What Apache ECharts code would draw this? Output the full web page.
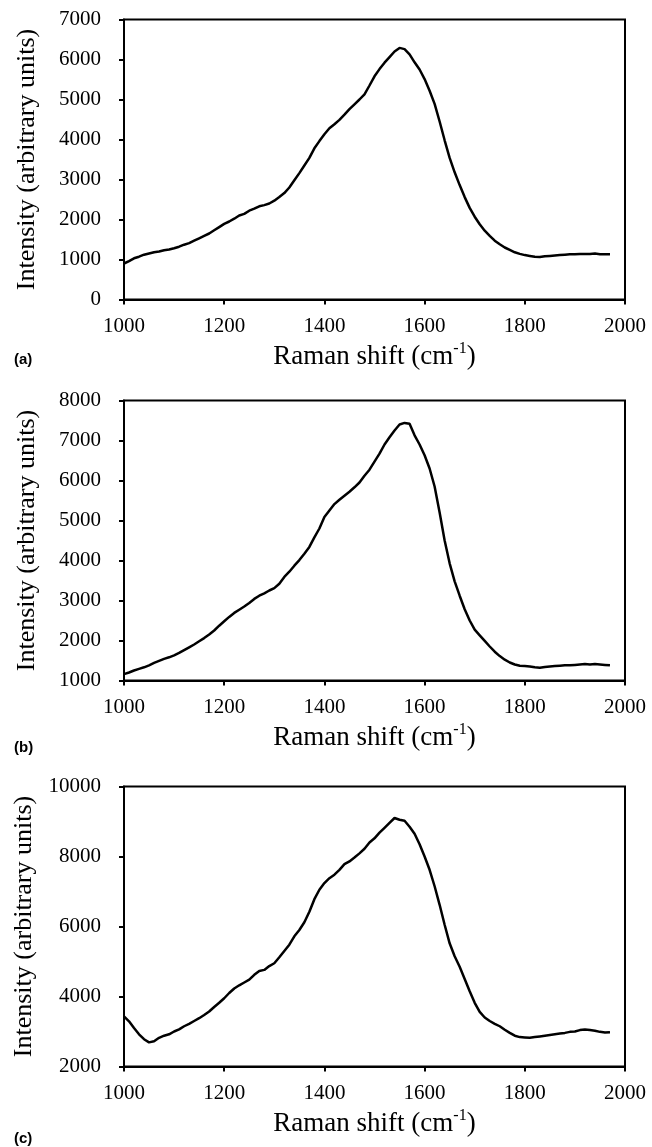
<!DOCTYPE html>
<html>
<head>
<meta charset="utf-8">
<script src="https://cdn.jsdelivr.net/npm/echarts@6/dist/echarts.min.js"></script>
<style>
html,body{margin:0;padding:0;background:#fff;}
#chart{width:652px;height:1147px;}
</style>
</head>
<body>
<div id="chart"></div>
<script>
// Raman shift sample positions (cm-1)
const ramanShift = [1000,1010,1020,1030,1040,1050,1060,1070,1080,1090,
1100,1110,1120,1130,1140,1150,1160,1170,1180,1190,
1200,1210,1220,1230,1240,1250,1260,1270,1280,1290,
1300,1310,1320,1330,1340,1350,1360,1370,1380,1390,
1400,1410,1420,1430,1440,1450,1460,1470,1480,1490,
1500,1510,1520,1530,1540,1550,1560,1570,1580,1590,
1600,1610,1620,1630,1640,1650,1660,1670,1680,1690,
1700,1710,1720,1730,1740,1750,1760,1770,1780,1790,
1800,1810,1820,1830,1840,1850,1860,1870,1880,1890,
1900,1910,1920,1930,1940,1950,1960,1970];

// Panel (a) intensity
const intensityA = [900,960,1030,1070,1120,1150,1180,1200,1230,1250,
1280,1320,1370,1410,1470,1530,1590,1650,1730,1810,
1890,1950,2020,2100,2140,2220,2270,2330,2360,2400,
2470,2560,2660,2800,2980,3160,3350,3540,3780,3960,
4130,4280,4380,4490,4620,4760,4880,5000,5130,5350,
5580,5760,5920,6060,6200,6290,6260,6130,5930,5750,
5510,5220,4890,4450,3980,3540,3180,2860,2560,2290,
2070,1880,1720,1590,1470,1380,1300,1240,1180,1140,
1110,1090,1070,1060,1080,1090,1100,1110,1120,1130,
1130,1140,1140,1140,1150,1130,1130,1130];

// Panel (b) intensity
const intensityB = [1160,1200,1250,1290,1330,1380,1440,1490,1540,1580,
1630,1690,1760,1830,1900,1980,2060,2150,2250,2370,
2480,2590,2690,2770,2850,2940,3040,3120,3180,3250,
3310,3420,3590,3720,3870,4010,4170,4340,4580,4800,
5090,5250,5410,5520,5620,5720,5830,5950,6120,6270,
6470,6670,6900,7080,7250,7400,7440,7420,7130,6900,
6630,6300,5850,5200,4500,3930,3480,3120,2780,2500,
2270,2130,1990,1850,1720,1610,1520,1450,1400,1370,
1360,1350,1330,1320,1340,1350,1360,1370,1380,1380,
1390,1400,1410,1400,1410,1400,1390,1380];

// Panel (c) intensity
const intensityC = [3430,3290,3100,2920,2780,2690,2720,2820,2880,2920,
3000,3060,3150,3220,3300,3380,3470,3570,3700,3820,
3950,4100,4230,4320,4400,4480,4620,4730,4760,4870,
4950,5120,5300,5480,5720,5900,6120,6420,6780,7050,
7240,7380,7480,7620,7780,7860,7970,8090,8220,8400,
8520,8680,8820,8960,9100,9050,9020,8850,8650,8350,
8000,7620,7150,6620,6050,5520,5150,4850,4500,4150,
3820,3560,3400,3300,3220,3150,3050,2960,2880,2840,
2830,2820,2840,2860,2880,2900,2920,2940,2960,2990,
3000,3040,3060,3040,3020,2990,2970,2980];

const panelLabels = ['(a)','(b)','(c)'];
const yRanges = [[0,7000,1000],[1000,8000,1000],[2000,10000,2000]];
const xRange = [1000,2000,200];
const xTitle = 'Raman shift (cm';
const xTitleSup = '-1';
const yTitle = 'Intensity (arbitrary units)';

const series = [intensityA, intensityB, intensityC];
const tops = [19.5, 400.5, 786.5];
const labelTops = [347, 735, 1126];
const serif = '"Liberation Serif","Times New Roman",serif';
const plain = v => String(v);

const chart = echarts.init(document.getElementById('chart'), null, {renderer:'canvas'});
const option = {
  backgroundColor:'#fff',
  animation:false,
  title: panelLabels.map((t,i)=>({text:t,left:9,top:labelTops[i],
    textStyle:{fontFamily:'"Liberation Sans",Arial,sans-serif',fontWeight:'bold',fontSize:15,color:'#000'}})),
  grid: tops.map(t=>({left:124,width:501,top:t,height:280,show:true,borderColor:'#000',borderWidth:2,backgroundColor:'transparent'})),
  xAxis: tops.map((t,i)=>({
    type:'value',gridIndex:i,min:xRange[0],max:xRange[1],interval:xRange[2],
    axisLine:{lineStyle:{color:'#000',width:2}},
    axisTick:{show:true,length:5,lineStyle:{color:'#000',width:2}},
    splitLine:{show:false},
    axisLabel:{color:'#000',fontFamily:serif,fontSize:21,margin:16,formatter:plain},
    name:'{a|'+xTitle+'}{s|'+xTitleSup+'}{a|)}',
    nameLocation:'middle',nameGap:41,
    nameTextStyle:{rich:{
      a:{fontFamily:serif,fontSize:27,color:'#000',verticalAlign:'bottom',lineHeight:30},
      s:{fontFamily:serif,fontSize:16,color:'#000',verticalAlign:'top',lineHeight:30,padding:[0,0,13,0]}
    }}
  })),
  yAxis: yRanges.map((r,i)=>({
    type:'value',gridIndex:i,min:r[0],max:r[1],interval:r[2],
    axisLine:{lineStyle:{color:'#000',width:2}},
    axisTick:{show:true,length:5,lineStyle:{color:'#000',width:2}},
    splitLine:{show:false},
    axisLabel:{color:'#000',fontFamily:serif,fontSize:21,margin:23,formatter:plain},
    name:yTitle,nameLocation:'middle',nameGap:84,
    nameTextStyle:{fontFamily:serif,fontSize:26,color:'#000'}
  })),
  series: series.map((d,i)=>({
    type:'line',xAxisIndex:i,yAxisIndex:i,showSymbol:false,
    lineStyle:{color:'#000',width:2.5},
    data: ramanShift.map((x,k)=>[x,d[k]])
  }))
};
chart.setOption(option);
</script>
</body>
</html>
